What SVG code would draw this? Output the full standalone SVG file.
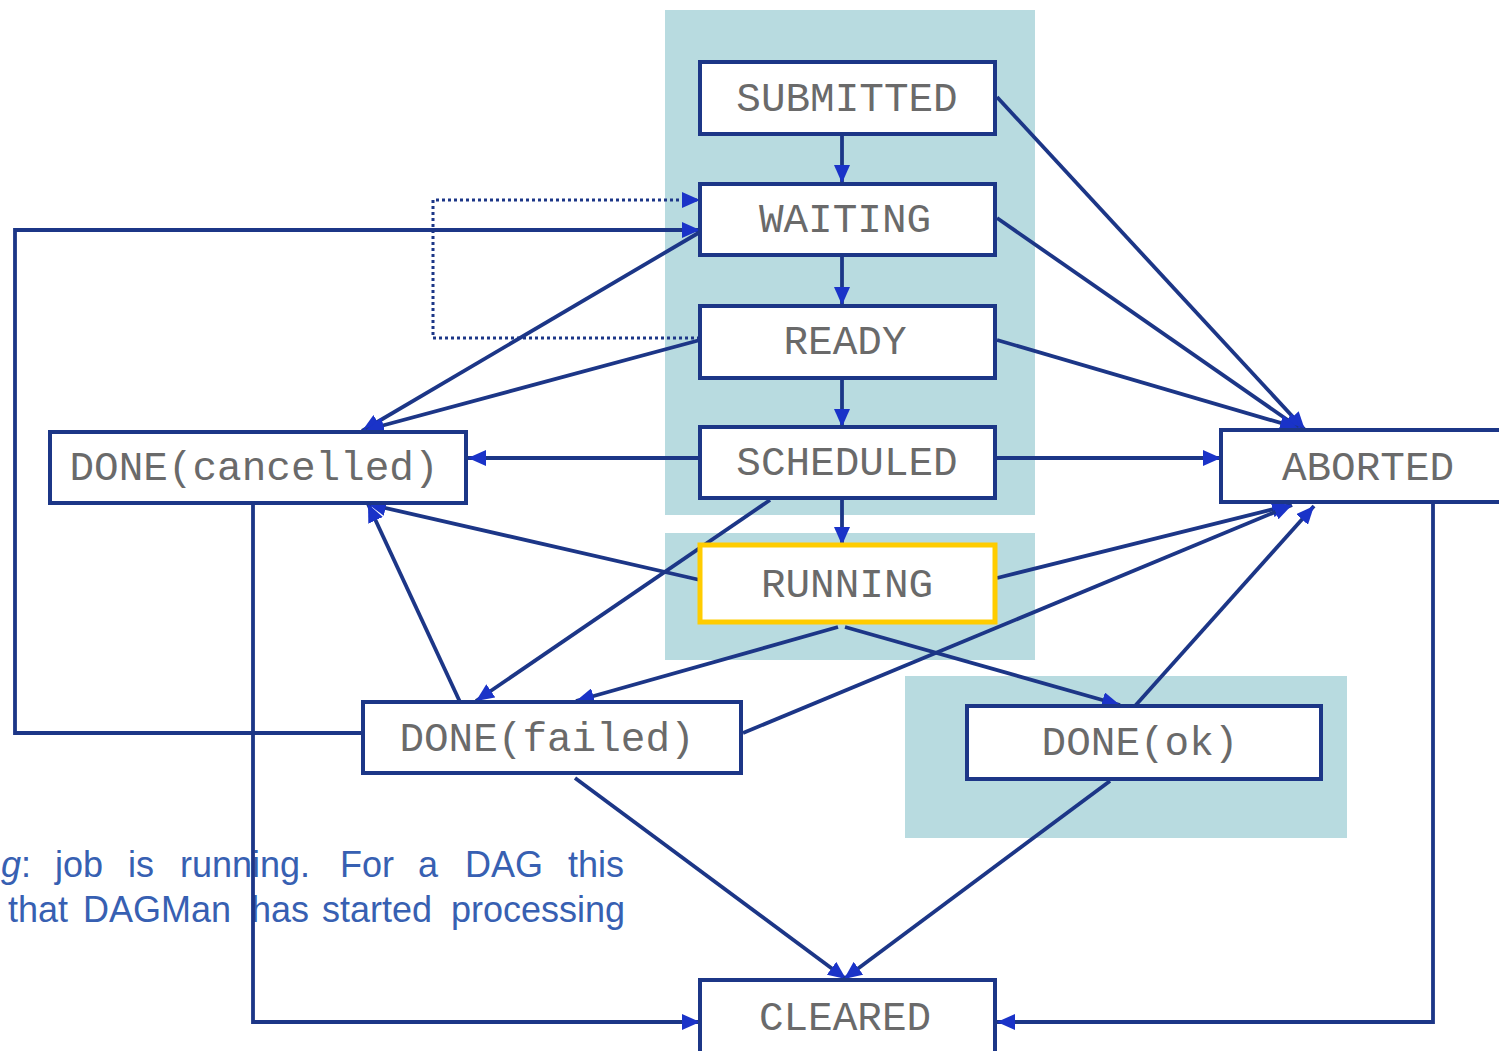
<svg xmlns="http://www.w3.org/2000/svg" width="1499" height="1051" viewBox="0 0 1499 1051">
<defs>
<style>
.bg{fill:#b8dbe0}
.box{fill:#fff;stroke:#1c3687;stroke-width:4}
.lbl{font-family:"Liberation Mono","Courier New",monospace;font-size:41px;fill:#6a6a6a;text-anchor:middle}
.ln{fill:none;stroke:#1c3687;stroke-width:3.8}
.dot{fill:none;stroke:#1c3687;stroke-width:3;stroke-dasharray:3,3}
.txt{font-family:"Liberation Sans",Arial,sans-serif;font-size:36px;fill:#3760b2}
</style>
<marker id="ah" viewBox="0 0 18 16" refX="18" refY="8" markerWidth="18" markerHeight="16" markerUnits="userSpaceOnUse" orient="auto">
<path d="M0,0 L18,8 L0,16 Z" fill="#1a33c8"/>
</marker>
</defs>
<rect width="1499" height="1051" fill="#fff"/>
<g id="backgrounds">
<rect class="bg" x="665" y="10" width="370" height="505"/>
<rect class="bg" x="665" y="533" width="370" height="127"/>
<rect class="bg" x="905" y="676" width="442" height="162"/>
</g>
<g id="note">
<text class="txt" y="877"><tspan x="1" font-style="italic">g</tspan><tspan>:</tspan></text>
<text class="txt" x="55" y="877">job</text>
<text class="txt" x="128" y="877">is</text>
<text class="txt" x="180" y="877">running.</text>
<text class="txt" x="340" y="877">For</text>
<text class="txt" x="418" y="877">a</text>
<text class="txt" x="465" y="877">DAG</text>
<text class="txt" x="568" y="877">this</text>
<text class="txt" x="8" y="922">that</text>
<text class="txt" x="83" y="922">DAGMan</text>
<text class="txt" x="251" y="922">has</text>
<text class="txt" x="322" y="922">started</text>
<text class="txt" x="451" y="922">processing</text>
</g>
<g id="connectors">
<line class="ln" x1="842" y1="134" x2="842" y2="183" marker-end="url(#ah)"/>
<line class="ln" x1="842" y1="255" x2="842" y2="305" marker-end="url(#ah)"/>
<line class="ln" x1="842" y1="378" x2="842" y2="427" marker-end="url(#ah)"/>
<line class="ln" x1="842" y1="498" x2="842" y2="545" marker-end="url(#ah)"/>
<line class="ln" x1="997" y1="97" x2="1305" y2="430" marker-end="url(#ah)"/>
<line class="ln" x1="997" y1="218" x2="1302" y2="430" marker-end="url(#ah)"/>
<line class="ln" x1="997" y1="340" x2="1298" y2="428" marker-end="url(#ah)"/>
<line class="ln" x1="997" y1="458" x2="1221" y2="458" marker-end="url(#ah)"/>
<line class="ln" x1="997" y1="578" x2="1290" y2="505" marker-end="url(#ah)"/>
<line class="ln" x1="743" y1="733" x2="1292" y2="505" marker-end="url(#ah)"/>
<line class="ln" x1="1135" y1="706" x2="1314" y2="506" marker-end="url(#ah)"/>
<line class="ln" x1="700" y1="458" x2="468" y2="458" marker-end="url(#ah)"/>
<line class="ln" x1="700" y1="232" x2="362" y2="431" marker-end="url(#ah)"/>
<line class="ln" x1="700" y1="340" x2="366" y2="430" marker-end="url(#ah)"/>
<line class="ln" x1="700" y1="580" x2="368" y2="504" marker-end="url(#ah)"/>
<line class="ln" x1="460" y1="702" x2="368" y2="504" marker-end="url(#ah)"/>
<line class="ln" x1="770" y1="500" x2="476" y2="701" marker-end="url(#ah)"/>
<line class="ln" x1="838" y1="627" x2="576" y2="701" marker-end="url(#ah)"/>
<line class="ln" x1="845" y1="627" x2="1120" y2="705" marker-end="url(#ah)"/>
<line class="ln" x1="575" y1="778" x2="846" y2="979" marker-end="url(#ah)"/>
<line class="ln" x1="1110" y1="781" x2="844" y2="979" marker-end="url(#ah)"/>
<polyline class="dot" points="700,338 433,338 433,200 700,200" marker-end="url(#ah)"/>
<polyline class="ln" points="363,733 15,733 15,230 700,230" marker-end="url(#ah)"/>
<polyline class="ln" points="253,503 253,1022 700,1022" marker-end="url(#ah)"/>
<polyline class="ln" points="1433,502 1433,1022 997,1022" marker-end="url(#ah)"/>
</g>
<g id="node-submitted"><rect class="box" x="700" y="62" width="295" height="72"/><text class="lbl" x="847" y="111">SUBMITTED</text></g>
<g id="node-waiting"><rect class="box" x="700" y="184" width="295" height="71"/><text class="lbl" x="845" y="232">WAITING</text></g>
<g id="node-ready"><rect class="box" x="700" y="306" width="295" height="72"/><text class="lbl" x="845" y="354">READY</text></g>
<g id="node-scheduled"><rect class="box" x="700" y="427" width="295" height="71"/><text class="lbl" x="847" y="475">SCHEDULED</text></g>
<g id="node-running"><rect x="700" y="545" width="295" height="77" fill="#fff" stroke="#ffcc00" stroke-width="5"/><text class="lbl" x="847" y="597">RUNNING</text></g>
<g id="node-done-cancelled"><rect class="box" x="50" y="432" width="416" height="71"/><text class="lbl" x="254" y="480">DONE(cancelled)</text></g>
<g id="node-aborted"><rect class="box" x="1221" y="430" width="300" height="72"/><text class="lbl" x="1368" y="480">ABORTED</text></g>
<g id="node-done-failed"><rect class="box" x="363" y="702" width="378" height="71"/><text class="lbl" x="547" y="751">DONE(failed)</text></g>
<g id="node-done-ok"><rect class="box" x="967" y="706" width="354" height="73"/><text class="lbl" x="1140" y="755">DONE(ok)</text></g>
<g id="node-cleared"><rect class="box" x="700" y="980" width="295" height="90"/><text class="lbl" x="845" y="1030">CLEARED</text></g>
</svg>
